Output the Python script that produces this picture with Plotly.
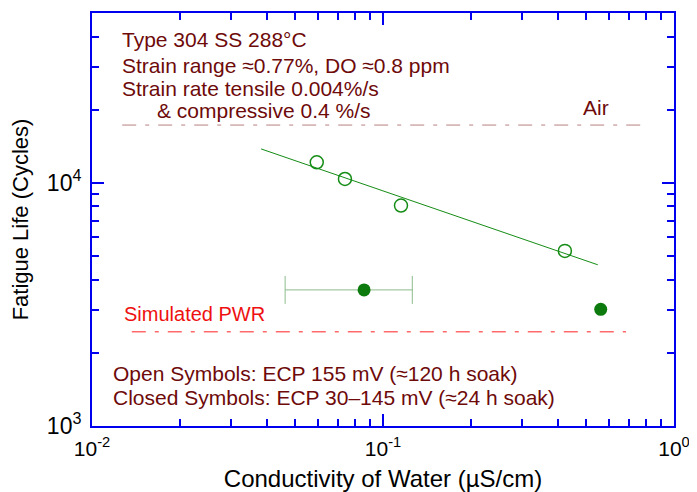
import plotly.graph_objects as go

# Data
open_x = [0.0592, 0.074, 0.1153, 0.4217]
open_y = [12160, 10380, 8070, 5250]
closed_x = [0.0861, 0.560]
closed_y = [3630, 3020]
closed_err = [0.040, None]
fit_x = [0.0381, 0.547]
fit_y = [13800, 4605]
air_x = [0.0127, 0.807]
air_y = [17300, 17300]
pwr_x = [0.0137, 0.684]
pwr_y = [2440, 2440]

x_major = [0.01, 0.1, 1]
x_major_text = ["10<sup>-2</sup>", "10<sup>-1</sup>", "10<sup>0</sup>"]
y_major = [1000, 10000]
y_major_text = ["10<sup>3</sup>", "10<sup>4</sup>"]
x_minor = [m * d for d in (0.01, 0.1) for m in range(2, 10)]
y_minor = [m * d for d in (1000, 10000) for m in range(2, 10) if m * d <= 50000]

green = "#158c15"
textc = "#6e0a0a"
axc = "#0000ee"
dashpat = "14px,9px,4px,9px"

fig = go.Figure()
fig.add_trace(go.Scatter(x=air_x, y=air_y, mode="lines",
                         line=dict(color="#b88080", width=1, dash=dashpat), showlegend=False))
fig.add_trace(go.Scatter(x=pwr_x, y=pwr_y, mode="lines",
                         line=dict(color="#ff2020", width=1, dash=dashpat), showlegend=False))
fig.add_trace(go.Scatter(x=fit_x, y=fit_y, mode="lines",
                         line=dict(color=green, width=1), showlegend=False))
fig.add_trace(go.Scatter(x=open_x, y=open_y, mode="markers",
                         marker=dict(symbol="circle-open", size=13, color=green, line=dict(width=1.5)),
                         showlegend=False))
for i in range(len(closed_x)):
    err = None
    if closed_err[i] is not None:
        err = dict(type="data", array=[closed_err[i]], arrayminus=[closed_err[i]],
                   color="#8cbc8c", thickness=1, width=14)
    fig.add_trace(go.Scatter(x=[closed_x[i]], y=[closed_y[i]], mode="markers",
                             marker=dict(symbol="circle", size=13, color="#0c7a0c"),
                             error_x=err, showlegend=False))

font = "Liberation Sans, Arial, sans-serif"
fig.update_layout(
    width=689, height=484,
    margin=dict(l=84, r=23, t=5, b=66),
    plot_bgcolor="white", paper_bgcolor="white",
    font=dict(family=font, color="black"),
    xaxis=dict(type="log", range=[-2, 0], tickvals=x_major, ticktext=x_major_text,
               ticks="inside", ticklen=12, tickwidth=2, tickcolor=axc, automargin=False,
               showline=True, linecolor=axc, linewidth=2, mirror="ticks",
               showgrid=False, zeroline=False, tickfont=dict(size=21), ticklabelstandoff=3,
               minor=dict(tickvals=x_minor, ticks="inside", ticklen=7, tickwidth=2, tickcolor=axc, showgrid=False),
               title=dict(text="Conductivity of Water (\u00b5S/cm)", font=dict(size=24), standoff=12)),
    yaxis=dict(type="log", range=[3, 4.699], tickvals=y_major, ticktext=y_major_text,
               ticks="inside", ticklen=12, tickwidth=2, tickcolor=axc, automargin=False,
               showline=True, linecolor=axc, linewidth=2, mirror="ticks",
               showgrid=False, zeroline=False, tickfont=dict(size=23), ticklabelstandoff=4,
               minor=dict(tickvals=y_minor, ticks="inside", ticklen=7, tickwidth=2, tickcolor=axc, showgrid=False),
               title=dict(text="Fatigue Life (Cycles)", font=dict(size=22), standoff=14)),
)

anns = [
    ("Type 304 SS 288\u00b0C", 0.048, 0.935, textc),
    ("Strain range \u22480.77%, DO \u22480.8 ppm", 0.048, 0.874, textc),
    ("Strain rate tensile 0.004%/s", 0.048, 0.818, textc),
    ("& compressive 0.4 %/s", 0.108, 0.763, textc),
    ("Air", 0.840, 0.772, textc),
    ("Simulated PWR", 0.052, 0.271, "#ee1010"),
    ("Open Symbols: ECP 155 mV (\u2248120 h soak)", 0.033, 0.126, textc),
    ("Closed Symbols: ECP 30\u2013145 mV (\u224824 h soak)", 0.033, 0.070, textc),
]
for t, x, y, c in anns:
    fig.add_annotation(text=t, xref="paper", yref="paper", x=x, y=y, xanchor="left", yanchor="middle",
                       showarrow=False, font=dict(size=21 if c == textc else 20, color=c, family=font))

fig.write_html("out.html")
